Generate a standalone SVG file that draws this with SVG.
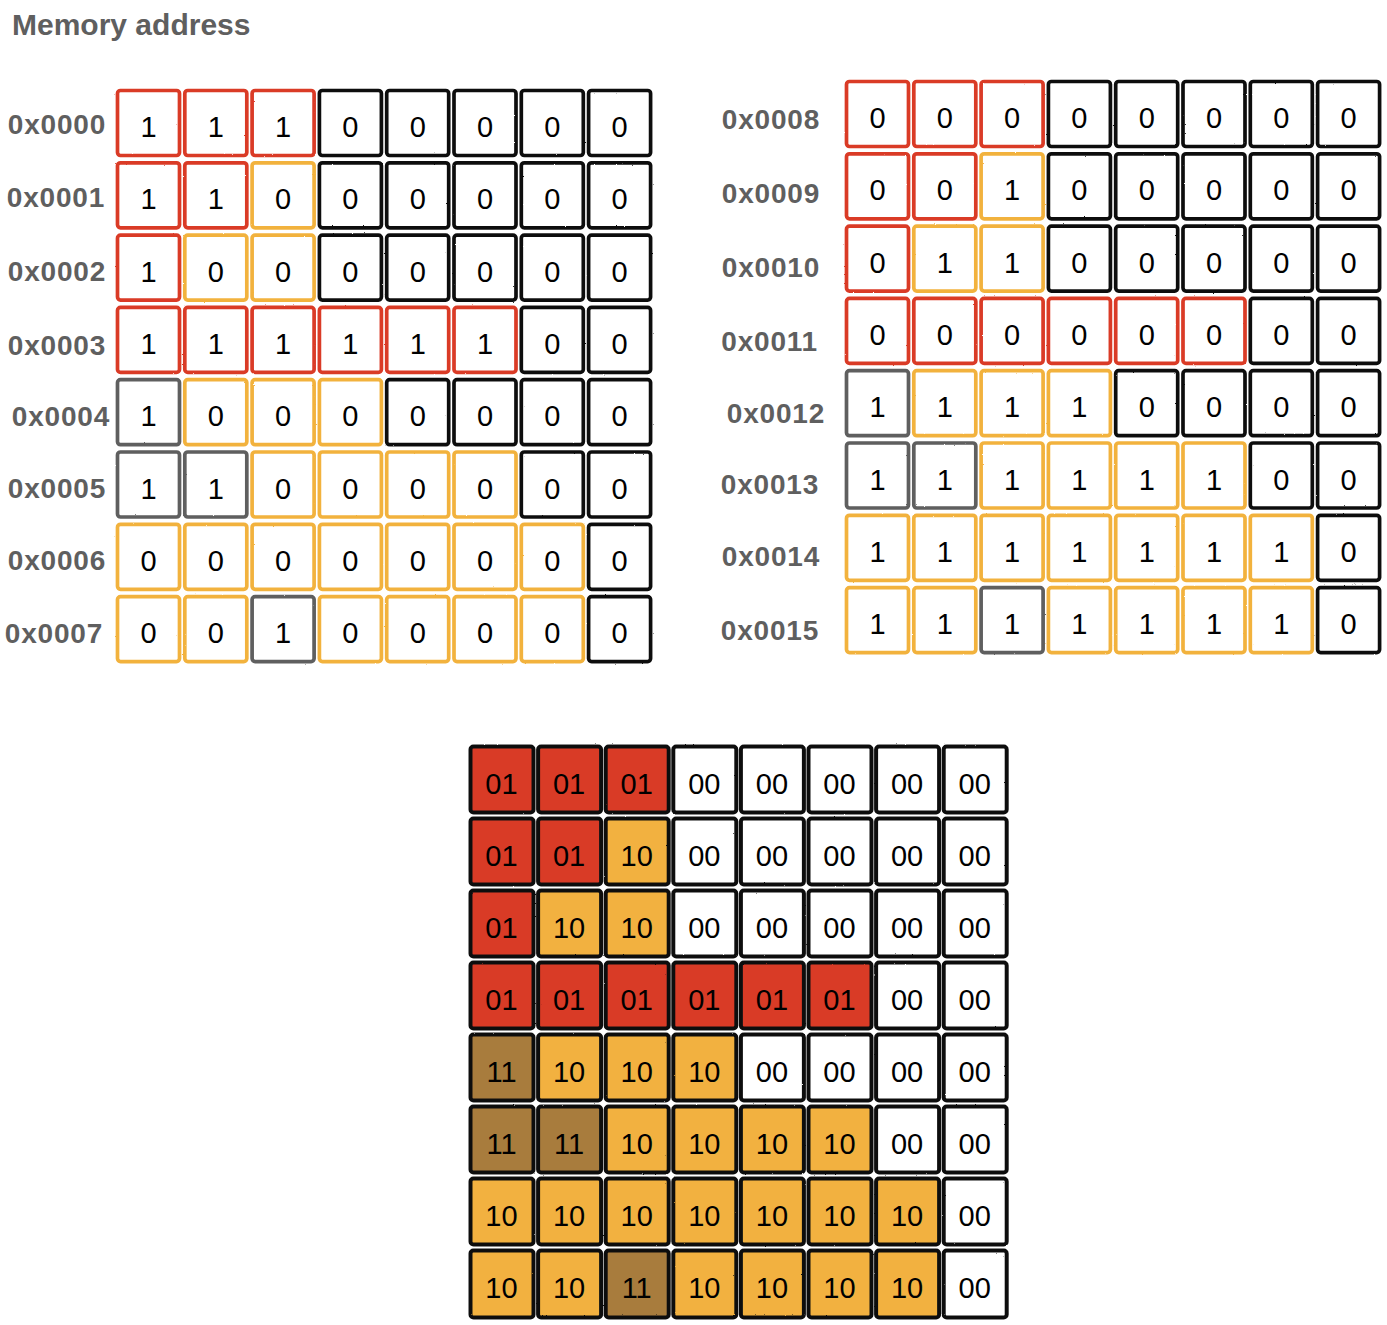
<svg xmlns="http://www.w3.org/2000/svg" width="1387" height="1325" viewBox="0 0 1387 1325">
<defs>
<filter id="rough" x="-5%" y="-5%" width="110%" height="110%">
<feTurbulence type="fractalNoise" baseFrequency="0.9" numOctaves="1" seed="3" result="n"/>
<feDisplacementMap in="SourceGraphic" in2="n" scale="1.8" xChannelSelector="R" yChannelSelector="G"/>
</filter>
</defs>
<style>
rect{stroke-width:3.7;rx:3;ry:3;filter:url(#rough)}
.w{fill:#fff}
.R{stroke:#DA3A26}
.O{stroke:#F2B23E}
.G{stroke:#5E5E5E}
.K{stroke:#111}
.B{stroke:#111;stroke-width:4}
.fR{fill:#D93B27}
.fO{fill:#F2B13F}
.fG{fill:#A87B3E}
.fK{fill:#fff}
text{font-family:"Liberation Sans",Arial,Helvetica,sans-serif}
.v{font-size:29px;fill:#000;text-anchor:middle}
.lab{font-size:28px;font-weight:bold;fill:#5F5F5F;text-anchor:end;letter-spacing:0.8px}
.title{font-size:30px;font-weight:bold;fill:#5F5F5F}
</style>
<rect width="1387" height="1325" fill="#fff" style="filter:none;stroke:none"/>
<text class="title" x="12" y="35">Memory address</text>
<g id="labels-left">
<text class="lab" x="106" y="134">0x0000</text>
<text class="lab" x="105" y="207">0x0001</text>
<text class="lab" x="106" y="281">0x0002</text>
<text class="lab" x="106" y="355">0x0003</text>
<text class="lab" x="110" y="426">0x0004</text>
<text class="lab" x="106" y="498">0x0005</text>
<text class="lab" x="106" y="570">0x0006</text>
<text class="lab" x="103" y="643">0x0007</text>
</g>
<g id="labels-right">
<text class="lab" x="820" y="129">0x0008</text>
<text class="lab" x="820" y="203">0x0009</text>
<text class="lab" x="820" y="277">0x0010</text>
<text class="lab" x="818" y="351">0x0011</text>
<text class="lab" x="825" y="423">0x0012</text>
<text class="lab" x="819" y="494">0x0013</text>
<text class="lab" x="820" y="566">0x0014</text>
<text class="lab" x="819" y="640">0x0015</text>
</g>
<g id="grid-left">
<g id="L0-0"><rect class="w R" x="117.5" y="90.5" width="62" height="65"/><text class="v" x="148.5" y="137">1</text></g>
<g id="L0-1"><rect class="w R" x="184.8" y="90.5" width="62" height="65"/><text class="v" x="215.8" y="137">1</text></g>
<g id="L0-2"><rect class="w R" x="252.1" y="90.5" width="62" height="65"/><text class="v" x="283.1" y="137">1</text></g>
<g id="L0-3"><rect class="w K" x="319.4" y="90.5" width="62" height="65"/><text class="v" x="350.4" y="137">0</text></g>
<g id="L0-4"><rect class="w K" x="386.7" y="90.5" width="62" height="65"/><text class="v" x="417.7" y="137">0</text></g>
<g id="L0-5"><rect class="w K" x="454" y="90.5" width="62" height="65"/><text class="v" x="485" y="137">0</text></g>
<g id="L0-6"><rect class="w K" x="521.3" y="90.5" width="62" height="65"/><text class="v" x="552.3" y="137">0</text></g>
<g id="L0-7"><rect class="w K" x="588.6" y="90.5" width="62" height="65"/><text class="v" x="619.6" y="137">0</text></g>

<g id="L1-0"><rect class="w R" x="117.5" y="162.8" width="62" height="65"/><text class="v" x="148.5" y="209.3">1</text></g>
<g id="L1-1"><rect class="w R" x="184.8" y="162.8" width="62" height="65"/><text class="v" x="215.8" y="209.3">1</text></g>
<g id="L1-2"><rect class="w O" x="252.1" y="162.8" width="62" height="65"/><text class="v" x="283.1" y="209.3">0</text></g>
<g id="L1-3"><rect class="w K" x="319.4" y="162.8" width="62" height="65"/><text class="v" x="350.4" y="209.3">0</text></g>
<g id="L1-4"><rect class="w K" x="386.7" y="162.8" width="62" height="65"/><text class="v" x="417.7" y="209.3">0</text></g>
<g id="L1-5"><rect class="w K" x="454" y="162.8" width="62" height="65"/><text class="v" x="485" y="209.3">0</text></g>
<g id="L1-6"><rect class="w K" x="521.3" y="162.8" width="62" height="65"/><text class="v" x="552.3" y="209.3">0</text></g>
<g id="L1-7"><rect class="w K" x="588.6" y="162.8" width="62" height="65"/><text class="v" x="619.6" y="209.3">0</text></g>

<g id="L2-0"><rect class="w R" x="117.5" y="235.1" width="62" height="65"/><text class="v" x="148.5" y="281.6">1</text></g>
<g id="L2-1"><rect class="w O" x="184.8" y="235.1" width="62" height="65"/><text class="v" x="215.8" y="281.6">0</text></g>
<g id="L2-2"><rect class="w O" x="252.1" y="235.1" width="62" height="65"/><text class="v" x="283.1" y="281.6">0</text></g>
<g id="L2-3"><rect class="w K" x="319.4" y="235.1" width="62" height="65"/><text class="v" x="350.4" y="281.6">0</text></g>
<g id="L2-4"><rect class="w K" x="386.7" y="235.1" width="62" height="65"/><text class="v" x="417.7" y="281.6">0</text></g>
<g id="L2-5"><rect class="w K" x="454" y="235.1" width="62" height="65"/><text class="v" x="485" y="281.6">0</text></g>
<g id="L2-6"><rect class="w K" x="521.3" y="235.1" width="62" height="65"/><text class="v" x="552.3" y="281.6">0</text></g>
<g id="L2-7"><rect class="w K" x="588.6" y="235.1" width="62" height="65"/><text class="v" x="619.6" y="281.6">0</text></g>

<g id="L3-0"><rect class="w R" x="117.5" y="307.4" width="62" height="65"/><text class="v" x="148.5" y="353.9">1</text></g>
<g id="L3-1"><rect class="w R" x="184.8" y="307.4" width="62" height="65"/><text class="v" x="215.8" y="353.9">1</text></g>
<g id="L3-2"><rect class="w R" x="252.1" y="307.4" width="62" height="65"/><text class="v" x="283.1" y="353.9">1</text></g>
<g id="L3-3"><rect class="w R" x="319.4" y="307.4" width="62" height="65"/><text class="v" x="350.4" y="353.9">1</text></g>
<g id="L3-4"><rect class="w R" x="386.7" y="307.4" width="62" height="65"/><text class="v" x="417.7" y="353.9">1</text></g>
<g id="L3-5"><rect class="w R" x="454" y="307.4" width="62" height="65"/><text class="v" x="485" y="353.9">1</text></g>
<g id="L3-6"><rect class="w K" x="521.3" y="307.4" width="62" height="65"/><text class="v" x="552.3" y="353.9">0</text></g>
<g id="L3-7"><rect class="w K" x="588.6" y="307.4" width="62" height="65"/><text class="v" x="619.6" y="353.9">0</text></g>

<g id="L4-0"><rect class="w G" x="117.5" y="379.7" width="62" height="65"/><text class="v" x="148.5" y="426.2">1</text></g>
<g id="L4-1"><rect class="w O" x="184.8" y="379.7" width="62" height="65"/><text class="v" x="215.8" y="426.2">0</text></g>
<g id="L4-2"><rect class="w O" x="252.1" y="379.7" width="62" height="65"/><text class="v" x="283.1" y="426.2">0</text></g>
<g id="L4-3"><rect class="w O" x="319.4" y="379.7" width="62" height="65"/><text class="v" x="350.4" y="426.2">0</text></g>
<g id="L4-4"><rect class="w K" x="386.7" y="379.7" width="62" height="65"/><text class="v" x="417.7" y="426.2">0</text></g>
<g id="L4-5"><rect class="w K" x="454" y="379.7" width="62" height="65"/><text class="v" x="485" y="426.2">0</text></g>
<g id="L4-6"><rect class="w K" x="521.3" y="379.7" width="62" height="65"/><text class="v" x="552.3" y="426.2">0</text></g>
<g id="L4-7"><rect class="w K" x="588.6" y="379.7" width="62" height="65"/><text class="v" x="619.6" y="426.2">0</text></g>

<g id="L5-0"><rect class="w G" x="117.5" y="452" width="62" height="65"/><text class="v" x="148.5" y="498.5">1</text></g>
<g id="L5-1"><rect class="w G" x="184.8" y="452" width="62" height="65"/><text class="v" x="215.8" y="498.5">1</text></g>
<g id="L5-2"><rect class="w O" x="252.1" y="452" width="62" height="65"/><text class="v" x="283.1" y="498.5">0</text></g>
<g id="L5-3"><rect class="w O" x="319.4" y="452" width="62" height="65"/><text class="v" x="350.4" y="498.5">0</text></g>
<g id="L5-4"><rect class="w O" x="386.7" y="452" width="62" height="65"/><text class="v" x="417.7" y="498.5">0</text></g>
<g id="L5-5"><rect class="w O" x="454" y="452" width="62" height="65"/><text class="v" x="485" y="498.5">0</text></g>
<g id="L5-6"><rect class="w K" x="521.3" y="452" width="62" height="65"/><text class="v" x="552.3" y="498.5">0</text></g>
<g id="L5-7"><rect class="w K" x="588.6" y="452" width="62" height="65"/><text class="v" x="619.6" y="498.5">0</text></g>

<g id="L6-0"><rect class="w O" x="117.5" y="524.3" width="62" height="65"/><text class="v" x="148.5" y="570.8">0</text></g>
<g id="L6-1"><rect class="w O" x="184.8" y="524.3" width="62" height="65"/><text class="v" x="215.8" y="570.8">0</text></g>
<g id="L6-2"><rect class="w O" x="252.1" y="524.3" width="62" height="65"/><text class="v" x="283.1" y="570.8">0</text></g>
<g id="L6-3"><rect class="w O" x="319.4" y="524.3" width="62" height="65"/><text class="v" x="350.4" y="570.8">0</text></g>
<g id="L6-4"><rect class="w O" x="386.7" y="524.3" width="62" height="65"/><text class="v" x="417.7" y="570.8">0</text></g>
<g id="L6-5"><rect class="w O" x="454" y="524.3" width="62" height="65"/><text class="v" x="485" y="570.8">0</text></g>
<g id="L6-6"><rect class="w O" x="521.3" y="524.3" width="62" height="65"/><text class="v" x="552.3" y="570.8">0</text></g>
<g id="L6-7"><rect class="w K" x="588.6" y="524.3" width="62" height="65"/><text class="v" x="619.6" y="570.8">0</text></g>

<g id="L7-0"><rect class="w O" x="117.5" y="596.6" width="62" height="65"/><text class="v" x="148.5" y="643.1">0</text></g>
<g id="L7-1"><rect class="w O" x="184.8" y="596.6" width="62" height="65"/><text class="v" x="215.8" y="643.1">0</text></g>
<g id="L7-2"><rect class="w G" x="252.1" y="596.6" width="62" height="65"/><text class="v" x="283.1" y="643.1">1</text></g>
<g id="L7-3"><rect class="w O" x="319.4" y="596.6" width="62" height="65"/><text class="v" x="350.4" y="643.1">0</text></g>
<g id="L7-4"><rect class="w O" x="386.7" y="596.6" width="62" height="65"/><text class="v" x="417.7" y="643.1">0</text></g>
<g id="L7-5"><rect class="w O" x="454" y="596.6" width="62" height="65"/><text class="v" x="485" y="643.1">0</text></g>
<g id="L7-6"><rect class="w O" x="521.3" y="596.6" width="62" height="65"/><text class="v" x="552.3" y="643.1">0</text></g>
<g id="L7-7"><rect class="w K" x="588.6" y="596.6" width="62" height="65"/><text class="v" x="619.6" y="643.1">0</text></g>
</g>

<g id="grid-right">
<g id="R0-0"><rect class="w R" x="846.5" y="81.5" width="62" height="65"/><text class="v" x="877.5" y="128">0</text></g>
<g id="R0-1"><rect class="w R" x="913.8" y="81.5" width="62" height="65"/><text class="v" x="944.8" y="128">0</text></g>
<g id="R0-2"><rect class="w R" x="981.1" y="81.5" width="62" height="65"/><text class="v" x="1012.1" y="128">0</text></g>
<g id="R0-3"><rect class="w K" x="1048.4" y="81.5" width="62" height="65"/><text class="v" x="1079.4" y="128">0</text></g>
<g id="R0-4"><rect class="w K" x="1115.7" y="81.5" width="62" height="65"/><text class="v" x="1146.7" y="128">0</text></g>
<g id="R0-5"><rect class="w K" x="1183" y="81.5" width="62" height="65"/><text class="v" x="1214" y="128">0</text></g>
<g id="R0-6"><rect class="w K" x="1250.3" y="81.5" width="62" height="65"/><text class="v" x="1281.3" y="128">0</text></g>
<g id="R0-7"><rect class="w K" x="1317.6" y="81.5" width="62" height="65"/><text class="v" x="1348.6" y="128">0</text></g>

<g id="R1-0"><rect class="w R" x="846.5" y="153.8" width="62" height="65"/><text class="v" x="877.5" y="200.3">0</text></g>
<g id="R1-1"><rect class="w R" x="913.8" y="153.8" width="62" height="65"/><text class="v" x="944.8" y="200.3">0</text></g>
<g id="R1-2"><rect class="w O" x="981.1" y="153.8" width="62" height="65"/><text class="v" x="1012.1" y="200.3">1</text></g>
<g id="R1-3"><rect class="w K" x="1048.4" y="153.8" width="62" height="65"/><text class="v" x="1079.4" y="200.3">0</text></g>
<g id="R1-4"><rect class="w K" x="1115.7" y="153.8" width="62" height="65"/><text class="v" x="1146.7" y="200.3">0</text></g>
<g id="R1-5"><rect class="w K" x="1183" y="153.8" width="62" height="65"/><text class="v" x="1214" y="200.3">0</text></g>
<g id="R1-6"><rect class="w K" x="1250.3" y="153.8" width="62" height="65"/><text class="v" x="1281.3" y="200.3">0</text></g>
<g id="R1-7"><rect class="w K" x="1317.6" y="153.8" width="62" height="65"/><text class="v" x="1348.6" y="200.3">0</text></g>

<g id="R2-0"><rect class="w R" x="846.5" y="226.1" width="62" height="65"/><text class="v" x="877.5" y="272.6">0</text></g>
<g id="R2-1"><rect class="w O" x="913.8" y="226.1" width="62" height="65"/><text class="v" x="944.8" y="272.6">1</text></g>
<g id="R2-2"><rect class="w O" x="981.1" y="226.1" width="62" height="65"/><text class="v" x="1012.1" y="272.6">1</text></g>
<g id="R2-3"><rect class="w K" x="1048.4" y="226.1" width="62" height="65"/><text class="v" x="1079.4" y="272.6">0</text></g>
<g id="R2-4"><rect class="w K" x="1115.7" y="226.1" width="62" height="65"/><text class="v" x="1146.7" y="272.6">0</text></g>
<g id="R2-5"><rect class="w K" x="1183" y="226.1" width="62" height="65"/><text class="v" x="1214" y="272.6">0</text></g>
<g id="R2-6"><rect class="w K" x="1250.3" y="226.1" width="62" height="65"/><text class="v" x="1281.3" y="272.6">0</text></g>
<g id="R2-7"><rect class="w K" x="1317.6" y="226.1" width="62" height="65"/><text class="v" x="1348.6" y="272.6">0</text></g>

<g id="R3-0"><rect class="w R" x="846.5" y="298.4" width="62" height="65"/><text class="v" x="877.5" y="344.9">0</text></g>
<g id="R3-1"><rect class="w R" x="913.8" y="298.4" width="62" height="65"/><text class="v" x="944.8" y="344.9">0</text></g>
<g id="R3-2"><rect class="w R" x="981.1" y="298.4" width="62" height="65"/><text class="v" x="1012.1" y="344.9">0</text></g>
<g id="R3-3"><rect class="w R" x="1048.4" y="298.4" width="62" height="65"/><text class="v" x="1079.4" y="344.9">0</text></g>
<g id="R3-4"><rect class="w R" x="1115.7" y="298.4" width="62" height="65"/><text class="v" x="1146.7" y="344.9">0</text></g>
<g id="R3-5"><rect class="w R" x="1183" y="298.4" width="62" height="65"/><text class="v" x="1214" y="344.9">0</text></g>
<g id="R3-6"><rect class="w K" x="1250.3" y="298.4" width="62" height="65"/><text class="v" x="1281.3" y="344.9">0</text></g>
<g id="R3-7"><rect class="w K" x="1317.6" y="298.4" width="62" height="65"/><text class="v" x="1348.6" y="344.9">0</text></g>

<g id="R4-0"><rect class="w G" x="846.5" y="370.7" width="62" height="65"/><text class="v" x="877.5" y="417.2">1</text></g>
<g id="R4-1"><rect class="w O" x="913.8" y="370.7" width="62" height="65"/><text class="v" x="944.8" y="417.2">1</text></g>
<g id="R4-2"><rect class="w O" x="981.1" y="370.7" width="62" height="65"/><text class="v" x="1012.1" y="417.2">1</text></g>
<g id="R4-3"><rect class="w O" x="1048.4" y="370.7" width="62" height="65"/><text class="v" x="1079.4" y="417.2">1</text></g>
<g id="R4-4"><rect class="w K" x="1115.7" y="370.7" width="62" height="65"/><text class="v" x="1146.7" y="417.2">0</text></g>
<g id="R4-5"><rect class="w K" x="1183" y="370.7" width="62" height="65"/><text class="v" x="1214" y="417.2">0</text></g>
<g id="R4-6"><rect class="w K" x="1250.3" y="370.7" width="62" height="65"/><text class="v" x="1281.3" y="417.2">0</text></g>
<g id="R4-7"><rect class="w K" x="1317.6" y="370.7" width="62" height="65"/><text class="v" x="1348.6" y="417.2">0</text></g>

<g id="R5-0"><rect class="w G" x="846.5" y="443" width="62" height="65"/><text class="v" x="877.5" y="489.5">1</text></g>
<g id="R5-1"><rect class="w G" x="913.8" y="443" width="62" height="65"/><text class="v" x="944.8" y="489.5">1</text></g>
<g id="R5-2"><rect class="w O" x="981.1" y="443" width="62" height="65"/><text class="v" x="1012.1" y="489.5">1</text></g>
<g id="R5-3"><rect class="w O" x="1048.4" y="443" width="62" height="65"/><text class="v" x="1079.4" y="489.5">1</text></g>
<g id="R5-4"><rect class="w O" x="1115.7" y="443" width="62" height="65"/><text class="v" x="1146.7" y="489.5">1</text></g>
<g id="R5-5"><rect class="w O" x="1183" y="443" width="62" height="65"/><text class="v" x="1214" y="489.5">1</text></g>
<g id="R5-6"><rect class="w K" x="1250.3" y="443" width="62" height="65"/><text class="v" x="1281.3" y="489.5">0</text></g>
<g id="R5-7"><rect class="w K" x="1317.6" y="443" width="62" height="65"/><text class="v" x="1348.6" y="489.5">0</text></g>

<g id="R6-0"><rect class="w O" x="846.5" y="515.3" width="62" height="65"/><text class="v" x="877.5" y="561.8">1</text></g>
<g id="R6-1"><rect class="w O" x="913.8" y="515.3" width="62" height="65"/><text class="v" x="944.8" y="561.8">1</text></g>
<g id="R6-2"><rect class="w O" x="981.1" y="515.3" width="62" height="65"/><text class="v" x="1012.1" y="561.8">1</text></g>
<g id="R6-3"><rect class="w O" x="1048.4" y="515.3" width="62" height="65"/><text class="v" x="1079.4" y="561.8">1</text></g>
<g id="R6-4"><rect class="w O" x="1115.7" y="515.3" width="62" height="65"/><text class="v" x="1146.7" y="561.8">1</text></g>
<g id="R6-5"><rect class="w O" x="1183" y="515.3" width="62" height="65"/><text class="v" x="1214" y="561.8">1</text></g>
<g id="R6-6"><rect class="w O" x="1250.3" y="515.3" width="62" height="65"/><text class="v" x="1281.3" y="561.8">1</text></g>
<g id="R6-7"><rect class="w K" x="1317.6" y="515.3" width="62" height="65"/><text class="v" x="1348.6" y="561.8">0</text></g>

<g id="R7-0"><rect class="w O" x="846.5" y="587.6" width="62" height="65"/><text class="v" x="877.5" y="634.1">1</text></g>
<g id="R7-1"><rect class="w O" x="913.8" y="587.6" width="62" height="65"/><text class="v" x="944.8" y="634.1">1</text></g>
<g id="R7-2"><rect class="w G" x="981.1" y="587.6" width="62" height="65"/><text class="v" x="1012.1" y="634.1">1</text></g>
<g id="R7-3"><rect class="w O" x="1048.4" y="587.6" width="62" height="65"/><text class="v" x="1079.4" y="634.1">1</text></g>
<g id="R7-4"><rect class="w O" x="1115.7" y="587.6" width="62" height="65"/><text class="v" x="1146.7" y="634.1">1</text></g>
<g id="R7-5"><rect class="w O" x="1183" y="587.6" width="62" height="65"/><text class="v" x="1214" y="634.1">1</text></g>
<g id="R7-6"><rect class="w O" x="1250.3" y="587.6" width="62" height="65"/><text class="v" x="1281.3" y="634.1">1</text></g>
<g id="R7-7"><rect class="w K" x="1317.6" y="587.6" width="62" height="65"/><text class="v" x="1348.6" y="634.1">0</text></g>
</g>

<g id="grid-combined">
<g id="C0-0"><rect class="B fR" x="470.5" y="746.5" width="63" height="66"/><text class="v" x="501.5" y="794">01</text></g>
<g id="C0-1"><rect class="B fR" x="538.1" y="746.5" width="63" height="66"/><text class="v" x="569.1" y="794">01</text></g>
<g id="C0-2"><rect class="B fR" x="605.7" y="746.5" width="63" height="66"/><text class="v" x="636.7" y="794">01</text></g>
<g id="C0-3"><rect class="B fK" x="673.3" y="746.5" width="63" height="66"/><text class="v" x="704.3" y="794">00</text></g>
<g id="C0-4"><rect class="B fK" x="740.9" y="746.5" width="63" height="66"/><text class="v" x="771.9" y="794">00</text></g>
<g id="C0-5"><rect class="B fK" x="808.5" y="746.5" width="63" height="66"/><text class="v" x="839.5" y="794">00</text></g>
<g id="C0-6"><rect class="B fK" x="876.1" y="746.5" width="63" height="66"/><text class="v" x="907.1" y="794">00</text></g>
<g id="C0-7"><rect class="B fK" x="943.7" y="746.5" width="63" height="66"/><text class="v" x="974.7" y="794">00</text></g>

<g id="C1-0"><rect class="B fR" x="470.5" y="818.5" width="63" height="66"/><text class="v" x="501.5" y="866">01</text></g>
<g id="C1-1"><rect class="B fR" x="538.1" y="818.5" width="63" height="66"/><text class="v" x="569.1" y="866">01</text></g>
<g id="C1-2"><rect class="B fO" x="605.7" y="818.5" width="63" height="66"/><text class="v" x="636.7" y="866">10</text></g>
<g id="C1-3"><rect class="B fK" x="673.3" y="818.5" width="63" height="66"/><text class="v" x="704.3" y="866">00</text></g>
<g id="C1-4"><rect class="B fK" x="740.9" y="818.5" width="63" height="66"/><text class="v" x="771.9" y="866">00</text></g>
<g id="C1-5"><rect class="B fK" x="808.5" y="818.5" width="63" height="66"/><text class="v" x="839.5" y="866">00</text></g>
<g id="C1-6"><rect class="B fK" x="876.1" y="818.5" width="63" height="66"/><text class="v" x="907.1" y="866">00</text></g>
<g id="C1-7"><rect class="B fK" x="943.7" y="818.5" width="63" height="66"/><text class="v" x="974.7" y="866">00</text></g>

<g id="C2-0"><rect class="B fR" x="470.5" y="890.5" width="63" height="66"/><text class="v" x="501.5" y="938">01</text></g>
<g id="C2-1"><rect class="B fO" x="538.1" y="890.5" width="63" height="66"/><text class="v" x="569.1" y="938">10</text></g>
<g id="C2-2"><rect class="B fO" x="605.7" y="890.5" width="63" height="66"/><text class="v" x="636.7" y="938">10</text></g>
<g id="C2-3"><rect class="B fK" x="673.3" y="890.5" width="63" height="66"/><text class="v" x="704.3" y="938">00</text></g>
<g id="C2-4"><rect class="B fK" x="740.9" y="890.5" width="63" height="66"/><text class="v" x="771.9" y="938">00</text></g>
<g id="C2-5"><rect class="B fK" x="808.5" y="890.5" width="63" height="66"/><text class="v" x="839.5" y="938">00</text></g>
<g id="C2-6"><rect class="B fK" x="876.1" y="890.5" width="63" height="66"/><text class="v" x="907.1" y="938">00</text></g>
<g id="C2-7"><rect class="B fK" x="943.7" y="890.5" width="63" height="66"/><text class="v" x="974.7" y="938">00</text></g>

<g id="C3-0"><rect class="B fR" x="470.5" y="962.5" width="63" height="66"/><text class="v" x="501.5" y="1010">01</text></g>
<g id="C3-1"><rect class="B fR" x="538.1" y="962.5" width="63" height="66"/><text class="v" x="569.1" y="1010">01</text></g>
<g id="C3-2"><rect class="B fR" x="605.7" y="962.5" width="63" height="66"/><text class="v" x="636.7" y="1010">01</text></g>
<g id="C3-3"><rect class="B fR" x="673.3" y="962.5" width="63" height="66"/><text class="v" x="704.3" y="1010">01</text></g>
<g id="C3-4"><rect class="B fR" x="740.9" y="962.5" width="63" height="66"/><text class="v" x="771.9" y="1010">01</text></g>
<g id="C3-5"><rect class="B fR" x="808.5" y="962.5" width="63" height="66"/><text class="v" x="839.5" y="1010">01</text></g>
<g id="C3-6"><rect class="B fK" x="876.1" y="962.5" width="63" height="66"/><text class="v" x="907.1" y="1010">00</text></g>
<g id="C3-7"><rect class="B fK" x="943.7" y="962.5" width="63" height="66"/><text class="v" x="974.7" y="1010">00</text></g>

<g id="C4-0"><rect class="B fG" x="470.5" y="1034.5" width="63" height="66"/><text class="v" x="501.5" y="1082">11</text></g>
<g id="C4-1"><rect class="B fO" x="538.1" y="1034.5" width="63" height="66"/><text class="v" x="569.1" y="1082">10</text></g>
<g id="C4-2"><rect class="B fO" x="605.7" y="1034.5" width="63" height="66"/><text class="v" x="636.7" y="1082">10</text></g>
<g id="C4-3"><rect class="B fO" x="673.3" y="1034.5" width="63" height="66"/><text class="v" x="704.3" y="1082">10</text></g>
<g id="C4-4"><rect class="B fK" x="740.9" y="1034.5" width="63" height="66"/><text class="v" x="771.9" y="1082">00</text></g>
<g id="C4-5"><rect class="B fK" x="808.5" y="1034.5" width="63" height="66"/><text class="v" x="839.5" y="1082">00</text></g>
<g id="C4-6"><rect class="B fK" x="876.1" y="1034.5" width="63" height="66"/><text class="v" x="907.1" y="1082">00</text></g>
<g id="C4-7"><rect class="B fK" x="943.7" y="1034.5" width="63" height="66"/><text class="v" x="974.7" y="1082">00</text></g>

<g id="C5-0"><rect class="B fG" x="470.5" y="1106.5" width="63" height="66"/><text class="v" x="501.5" y="1154">11</text></g>
<g id="C5-1"><rect class="B fG" x="538.1" y="1106.5" width="63" height="66"/><text class="v" x="569.1" y="1154">11</text></g>
<g id="C5-2"><rect class="B fO" x="605.7" y="1106.5" width="63" height="66"/><text class="v" x="636.7" y="1154">10</text></g>
<g id="C5-3"><rect class="B fO" x="673.3" y="1106.5" width="63" height="66"/><text class="v" x="704.3" y="1154">10</text></g>
<g id="C5-4"><rect class="B fO" x="740.9" y="1106.5" width="63" height="66"/><text class="v" x="771.9" y="1154">10</text></g>
<g id="C5-5"><rect class="B fO" x="808.5" y="1106.5" width="63" height="66"/><text class="v" x="839.5" y="1154">10</text></g>
<g id="C5-6"><rect class="B fK" x="876.1" y="1106.5" width="63" height="66"/><text class="v" x="907.1" y="1154">00</text></g>
<g id="C5-7"><rect class="B fK" x="943.7" y="1106.5" width="63" height="66"/><text class="v" x="974.7" y="1154">00</text></g>

<g id="C6-0"><rect class="B fO" x="470.5" y="1178.5" width="63" height="66"/><text class="v" x="501.5" y="1226">10</text></g>
<g id="C6-1"><rect class="B fO" x="538.1" y="1178.5" width="63" height="66"/><text class="v" x="569.1" y="1226">10</text></g>
<g id="C6-2"><rect class="B fO" x="605.7" y="1178.5" width="63" height="66"/><text class="v" x="636.7" y="1226">10</text></g>
<g id="C6-3"><rect class="B fO" x="673.3" y="1178.5" width="63" height="66"/><text class="v" x="704.3" y="1226">10</text></g>
<g id="C6-4"><rect class="B fO" x="740.9" y="1178.5" width="63" height="66"/><text class="v" x="771.9" y="1226">10</text></g>
<g id="C6-5"><rect class="B fO" x="808.5" y="1178.5" width="63" height="66"/><text class="v" x="839.5" y="1226">10</text></g>
<g id="C6-6"><rect class="B fO" x="876.1" y="1178.5" width="63" height="66"/><text class="v" x="907.1" y="1226">10</text></g>
<g id="C6-7"><rect class="B fK" x="943.7" y="1178.5" width="63" height="66"/><text class="v" x="974.7" y="1226">00</text></g>

<g id="C7-0"><rect class="B fO" x="470.5" y="1250.5" width="63" height="67"/><text class="v" x="501.5" y="1298">10</text></g>
<g id="C7-1"><rect class="B fO" x="538.1" y="1250.5" width="63" height="67"/><text class="v" x="569.1" y="1298">10</text></g>
<g id="C7-2"><rect class="B fG" x="605.7" y="1250.5" width="63" height="67"/><text class="v" x="636.7" y="1298">11</text></g>
<g id="C7-3"><rect class="B fO" x="673.3" y="1250.5" width="63" height="67"/><text class="v" x="704.3" y="1298">10</text></g>
<g id="C7-4"><rect class="B fO" x="740.9" y="1250.5" width="63" height="67"/><text class="v" x="771.9" y="1298">10</text></g>
<g id="C7-5"><rect class="B fO" x="808.5" y="1250.5" width="63" height="67"/><text class="v" x="839.5" y="1298">10</text></g>
<g id="C7-6"><rect class="B fO" x="876.1" y="1250.5" width="63" height="67"/><text class="v" x="907.1" y="1298">10</text></g>
<g id="C7-7"><rect class="B fK" x="943.7" y="1250.5" width="63" height="67"/><text class="v" x="974.7" y="1298">00</text></g>
</g>
</svg>
